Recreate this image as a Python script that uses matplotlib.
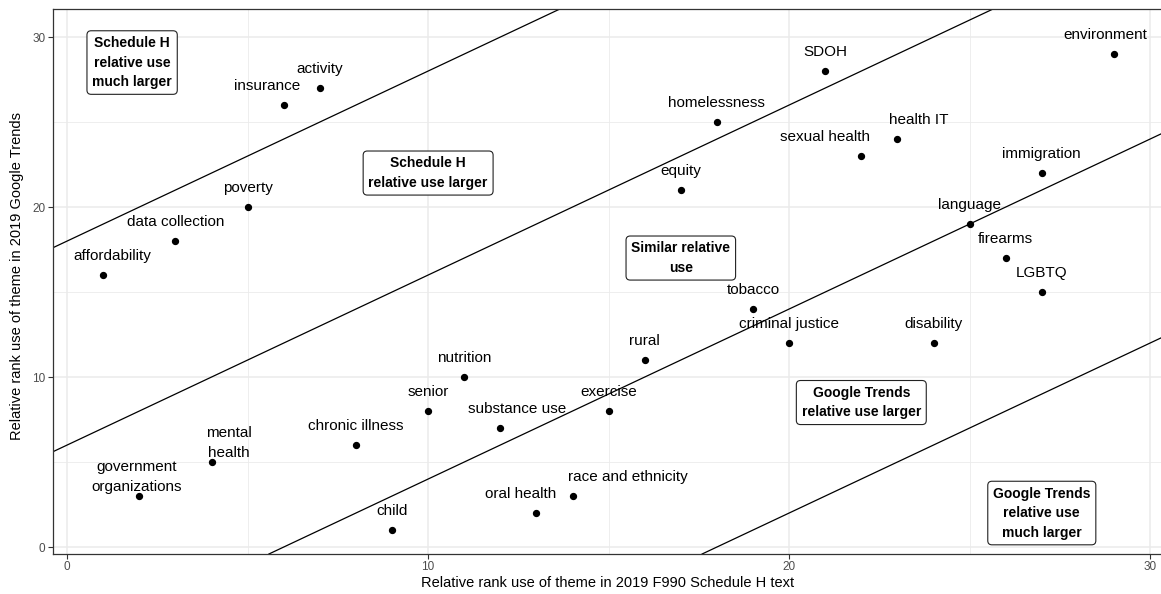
import numpy as np
import matplotlib.pyplot as plt

plt.rcParams['font.family'] = ['Liberation Sans', 'DejaVu Sans']

# Themes: rank in Schedule H text (x) and in Google Trends (y)
themes = ['affordability', 'government\norganizations', 'data collection', 'mental\nhealth',
          'poverty', 'insurance', 'activity', 'chronic illness', 'child', 'senior',
          'nutrition', 'substance use', 'oral health', 'race and ethnicity', 'exercise',
          'rural', 'equity', 'homelessness', 'tobacco', 'criminal justice', 'SDOH',
          'sexual health', 'health IT', 'disability', 'language', 'firearms',
          'immigration', 'LGBTQ', 'environment']
rank_sched_h = [1, 2, 3, 4, 5, 6, 7, 8, 9, 10, 11, 12, 13, 14, 15, 16, 17, 18, 19, 20,
                21, 22, 23, 24, 25, 26, 27, 27, 29]
rank_google = [16, 3, 18, 5, 20, 26, 27, 6, 1, 8, 10, 7, 2, 3, 8, 11, 21, 25, 14, 12,
               28, 23, 24, 12, 19, 17, 22, 15, 29]

# horizontal nudges of the labels (data units), the rest sit straight above
label_dx = {'affordability': 0.24, 'insurance': -0.47, 'mental\nhealth': 0.49,
            'government\norganizations': -0.08, 'substance use': 0.47,
            'oral health': -0.43, 'race and ethnicity': 1.52, 'sexual health': -1.0,
            'health IT': 0.58, 'environment': -0.25}

# diagonal reference lines y = x + b
intercepts = [-18, -6, 6, 18]

# region annotations
region_text = ['Schedule H\nrelative use\nmuch larger', 'Schedule H\nrelative use larger',
               'Similar relative\nuse', 'Google Trends\nrelative use larger',
               'Google Trends\nrelative use\nmuch larger']
region_x = [1.8, 10, 17, 22, 27]
region_y = [28.5, 22, 17, 8.5, 2]

fig = plt.figure(figsize=(11.61, 5.94), dpi=100)
ax = fig.add_axes([52.7 / 1161, 40 / 594, 1114 / 1161, 545 / 594])

ax.set_xlim(-0.4, 30.46)
ax.set_ylim(-0.41, 31.65)

ax.set_xticks([0, 10, 20, 30])
ax.set_yticks([0, 10, 20, 30])
ax.set_xticks([5, 15, 25], minor=True)
ax.set_yticks([5, 15, 25], minor=True)
ax.grid(which='major', color='#EBEBEB', lw=1.1)
ax.grid(which='minor', color='#EBEBEB', lw=0.6)
ax.set_axisbelow(True)
ax.tick_params(which='major', length=3.5, width=0.8, color='#333333',
               labelsize=8.5, labelcolor='#4D4D4D', pad=1.8)
ax.tick_params(which='minor', length=0)
for sp in ax.spines.values():
    sp.set_color('#333333')
    sp.set_linewidth(0.9)
# the panel runs off the right edge of the picture
ax.spines['right'].set_visible(False)

for b in intercepts:
    ax.axline((0, b), slope=1, color='black', lw=0.9, zorder=2)

ax.scatter(rank_sched_h, rank_google, s=18, color='black', zorder=3)

for name, x, y in zip(themes, rank_sched_h, rank_google):
    ax.text(x + label_dx.get(name, 0), y + 1.1, name, ha='center', va='center',
            fontsize=11, linespacing=1.55, zorder=4)

for t, x, y in zip(region_text, region_x, region_y):
    ax.text(x, y, t, ha='center', va='center', fontsize=10, fontweight='bold',
            linespacing=1.5, zorder=5,
            bbox=dict(boxstyle='round,pad=0.38,rounding_size=0.3', fc='white',
                      ec='#222222', lw=0.8))

ax.set_xlabel('Relative rank use of theme in 2019 F990 Schedule H text',
              fontsize=10.5, va='center')
ax.xaxis.set_label_coords(0.4985, -0.053)
ax.set_ylabel('Relative rank use of theme in 2019 Google Trends',
              fontsize=10.5, va='center')
ax.yaxis.set_label_coords(-0.0321, 0.51)

fig.savefig('out.png', dpi=100)
